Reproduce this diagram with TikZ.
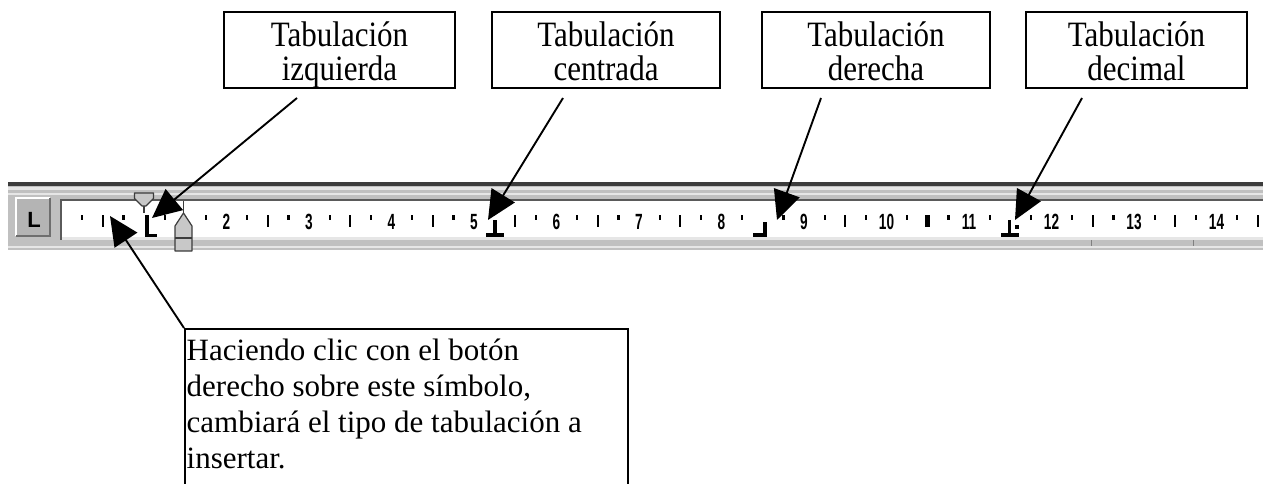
\documentclass[tikz,border=0pt]{standalone}
\usepackage{graphicx}
\usepackage{fontspec}
\setmainfont{Liberation Serif}
\newfontfamily\rulerfont{Liberation Sans}
\usetikzlibrary{arrows.meta}
\definecolor{rdark}{HTML}{3C3C3C}
\definecolor{rgray}{HTML}{C0C0C0}
\definecolor{rlight}{HTML}{E6E6E6}
\definecolor{rmid}{HTML}{5A5A5A}
\definecolor{mfill}{HTML}{C8C8C8}
\definecolor{bfill}{HTML}{B4B4B4}
\definecolor{bshade}{HTML}{6E6E6E}
\begin{document}
\begin{tikzpicture}[x=1pt,y=-1pt,
  tbox/.style={draw, line width=1.8pt, minimum width=#1, minimum height=76pt, inner sep=0pt},
  ttext/.style={inner sep=0pt, anchor=base, font=\fontsize{31}{25}\selectfont},
  btext/.style={inner sep=0pt, anchor=base west, font=\fontsize{31}{36}\selectfont},
  arr/.style={line width=1.9pt, -{Triangle[length=29pt,width=27pt]}},
  rnum/.style={inner sep=0pt, font=\rulerfont\bfseries\fontsize{22}{22}\selectfont},
  marker/.style={fill=mfill, draw=rdark, line width=1.2pt, line join=round}]
\clip (0,0) rectangle (1269,484);
\fill[white] (0,0) rectangle (1269,484);

% ---- ruler ----
\fill[rgray] (8,186) rectangle (1263,250);
\fill[rdark] (8,182) rectangle (1263,186);
\fill[rlight] (8,187) rectangle (1263,189.5);
\fill[rlight] (8,193) rectangle (1263,195);
\fill[rmid] (60,199) rectangle (1263,201);
\fill[white] (62,201) rectangle (1263,237);
\fill[rmid] (60,199) rectangle (62,240);
\fill[rlight] (62,237) rectangle (1263,240);
\fill[rlight] (8,246) rectangle (1263,248);
\draw[gray, line width=1pt] (1091,240) -- (1091,246);
\draw[gray, line width=1pt] (1193,240) -- (1193,246);

% button
\fill[bfill] (16,198) rectangle (50,236);
\draw[white, line width=1.5pt] (16,236) -- (16,198) -- (50,198);
\draw[bshade, line width=1.5pt] (16,236) -- (50,236) -- (50,198);
\node[inner sep=0pt, font=\rulerfont\bfseries\fontsize{22}{22}\selectfont] (btn) at (34,219.5) {L};

% ticks
\foreach \k in {1,3,5,7,9,11,13,15,17,19,23,25,27,29,31,33,35,37,39,41,43,45,47,49,51,53,55,57}
  \fill ({61.5+\k*20.625-1},215) rectangle ({61.5+\k*20.625+1.2},220);
\foreach \k in {2,10,14,18,22,26,30,38,50,54,58}
  \fill ({61.5+\k*20.625-1},215) rectangle ({61.5+\k*20.625+1.2},227);
\fill ({61.5+42*20.625-3},215) rectangle ({61.5+42*20.625+2},227);
\foreach \d in {2,...,14}
  \node[rnum] (n\d) at ({61.5+\d*82.5},222) {\scalebox{0.62}[1]{\d}};

% tab markers
\fill (145,215) rectangle (148.5,237);
\fill (145,233.5) rectangle (157,237);
\fill (493,220) rectangle (497,233);
\fill (486,232.5) rectangle (504,237);
\fill (763,222) rectangle (767,237);
\fill (753,232.5) rectangle (767,237);
\fill (1007.5,220) rectangle (1011,233);
\fill (1001,232.5) rectangle (1019,237);
\fill (1015,225) rectangle (1019,229);

% indent markers
\draw[rdark, line width=1.5pt] (144,205) -- (144,213);
\draw[marker] (134.5,193) -- (153.5,193) -- (153.5,198.5) -- (146,206) -- (142,206) -- (134.5,198.5) -- cycle;
\draw[rdark, line width=1.5pt] (183.5,201) -- (183.5,213);
\draw[marker] (183.5,213) -- (192,226) -- (192,251) -- (175,251) -- (175,226) -- cycle;
\draw[rdark, line width=1.2pt] (175,238) -- (192,238);

% ---- boxes ----
\node[tbox=231pt] (b1) at (339.5,50) {};
\node[tbox=228pt] (b2) at (606,50) {};
\node[tbox=228pt] (b3) at (876,50) {};
\node[tbox=221pt] (b4) at (1136.5,50) {};
\node[ttext] (l1) at (339.5,47) {\scalebox{1}[1.15]{\begin{tabular}[t]{@{}c@{}}Tabulación\\izquierda\end{tabular}}};
\node[ttext] (l2) at (606,47) {\scalebox{1}[1.15]{\begin{tabular}[t]{@{}c@{}}Tabulación\\centrada\end{tabular}}};
\node[ttext] (l3) at (876,47) {\scalebox{1}[1.15]{\begin{tabular}[t]{@{}c@{}}Tabulación\\derecha\end{tabular}}};
\node[ttext] (l4) at (1136.5,47) {\scalebox{1}[1.15]{\begin{tabular}[t]{@{}c@{}}Tabulación\\decimal\end{tabular}}};

\node[draw, line width=1.8pt, anchor=north west, minimum width=443pt, minimum height=180pt, inner sep=0pt] (hb) at (184,328) {};
\node[btext] (ht) at (186.5,360) {\begin{tabular}[t]{@{}l@{}}Haciendo clic con el botón\\derecho sobre este símbolo,\\cambiará el tipo de tabulación a\\insertar.\end{tabular}};

% ---- connectors ----
\coordinate (s1) at (297,98);  \coordinate (t1) at (152,218);
\coordinate (s2) at (563,98);  \coordinate (t2) at (488,220);
\coordinate (s3) at (821,98);  \coordinate (t3) at (777,220);
\coordinate (s4) at (1082,98); \coordinate (t4) at (1015,220);
\coordinate (t5) at (110,216);
\draw[arr] (s1) -- (t1);
\draw[arr] (s2) -- (t2);
\draw[arr] (s3) -- (t3);
\draw[arr] (s4) -- (t4);
\draw[arr] (hb.north west) -- (t5);
\end{tikzpicture}
\end{document}
